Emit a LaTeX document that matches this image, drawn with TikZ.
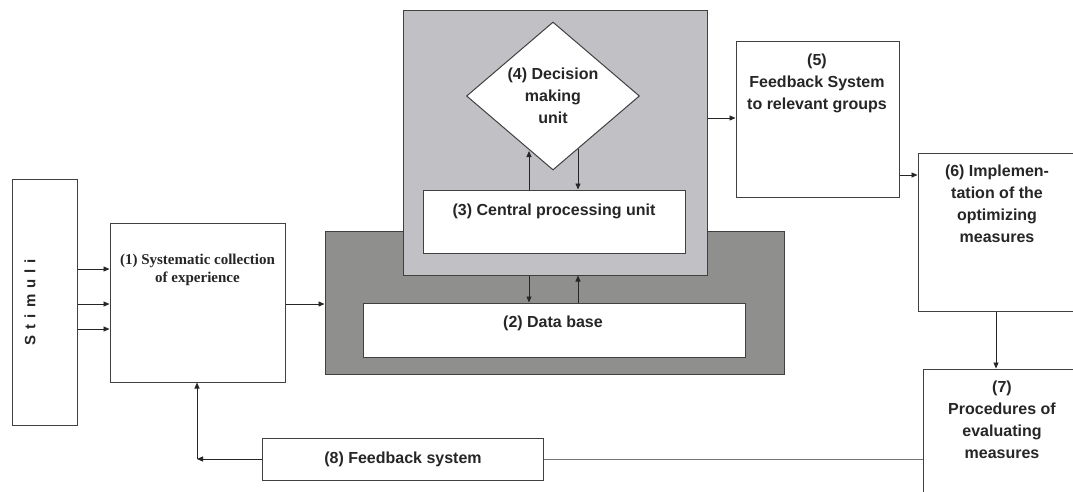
\documentclass[tikz,border=0pt]{standalone}
\usepackage{fontspec}
\setmainfont{Liberation Sans}
\newfontfamily\serifb{Liberation Serif}
\usetikzlibrary{shapes.geometric,arrows.meta}
\definecolor{dkgray}{HTML}{8F908E}
\definecolor{ltgray}{HTML}{C1C0C5}
\definecolor{edge}{HTML}{404040}
\begin{document}
\begin{tikzpicture}[x=1pt,y=-1pt,
  box/.style={draw=edge, line width=1pt, fill=white, inner sep=0pt},
  txt/.style={font=\fontsize{16}{22}\selectfont\bfseries, align=center, inner sep=0pt, anchor=north, text=black!85},
  arr/.style={draw=black!85, line width=0.9pt, -{Triangle[length=6pt,width=5pt]}},
  plain/.style={draw=black!55, line width=1pt},
]
\clip (0,0) rectangle (1073,491);
\fill[white] (0,0) rectangle (1073,491);

% boxes
\node[box, minimum width=65pt, minimum height=246pt] (stim) at (44.5,302) {};
\node[box, minimum width=175pt, minimum height=159pt] (b1) at (197.5,302.5) {};
\node[box, fill=dkgray, minimum width=459pt, minimum height=143pt] (dark) at (554.5,302.5) {};
\node[box, fill=ltgray, minimum width=304pt, minimum height=265pt] (light) at (555,142.5) {};
\node[box, minimum width=382pt, minimum height=54pt] (db) at (554,330) {};
\node[box, minimum width=262pt, minimum height=63pt] (cpu) at (554,221.5) {};
\node[box, shape=diamond, minimum width=173pt, minimum height=148pt] (dec) at (553,96) {};
\node[box, minimum width=163pt, minimum height=156pt] (b5) at (817.5,119) {};
\node[box, minimum width=160pt, minimum height=158pt] (b6) at (998,232) {};
\node[box, minimum width=155pt, minimum height=135pt] (b7) at (1000.5,436.5) {};
\node[box, minimum width=281pt, minimum height=42pt] (b8) at (402.5,459) {};

% texts
\node[txt, rotate=90, anchor=center, font=\fontsize{15}{16}\selectfont\bfseries] (tstim) at (30,302)
  {S\hspace{6pt}t\hspace{6pt}i\hspace{6pt}m\hspace{6pt}u\hspace{6pt}l\hspace{6pt}i};
\node[txt, font=\fontsize{15}{18}\selectfont\serifb\bfseries] (t1) at (197.5,254)
  {(1) Systematic collection\\of experience};
\node[txt] (t3) at (554,204) {(3) Central processing unit};
\node[txt] (t2) at (553,316) {(2) Data base};
\node[txt, anchor=center] (t4) at (553,96) {(4) Decision\\making\\unit};
\node[txt] (t5) at (817,54) {(5)\\Feedback System\\to relevant groups};
\node[txt] (t6) at (997,165) {(6) Implemen-\\tation of the\\optimizing\\measures};
\node[txt] (t7) at (1002,381) {(7)\\Procedures of\\evaluating\\measures};
\node[txt] (t8) at (403,452) {(8) Feedback system};

% connectors
\draw[arr] (stim.east |- 0,269) -- (b1.west |- 0,269);
\draw[arr] (stim.east |- 0,304) -- (b1.west |- 0,304);
\draw[arr] (stim.east |- 0,329) -- (b1.west |- 0,329);
\draw[arr] (b1.east |- 0,304) -- (dark.west |- 0,304);
\draw[arr] (cpu.north -| 529,0) -- (529,151);
\draw[arr] (578,149) -- (cpu.north -| 578,0);
\draw[arr] (light.south -| 529,0) -- (db.north -| 529,0);
\draw[arr] (db.north -| 578,0) -- (light.south -| 578,0);
\draw[arr] (light.east |- 0,118) -- (b5.west |- 0,118);
\draw[arr] (b5.east |- 0,175) -- (b6.west |- 0,175);
\draw[arr] (b6.south -| 996,0) -- (b7.north -| 996,0);
\draw[plain] (b7.west |- b8.east) -- (b8.east);
\coordinate (corner) at (197,459);
\draw[arr] (b8.west) -- (corner);
\draw[arr] (corner) -- (corner |- b1.south);
\end{tikzpicture}
\end{document}
